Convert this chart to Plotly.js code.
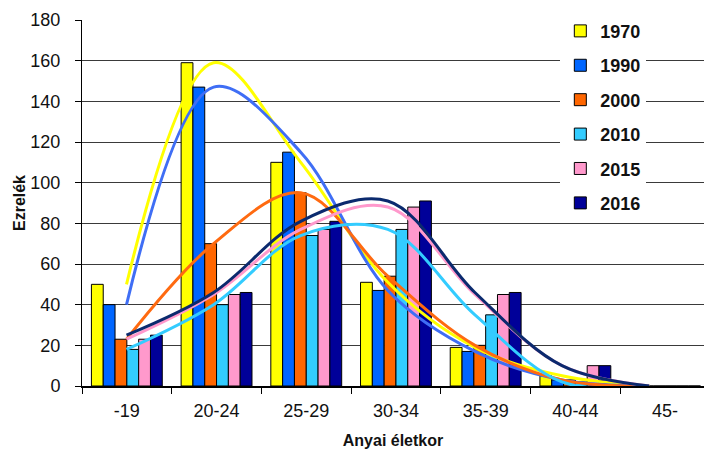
<!DOCTYPE html>
<html>
<head>
<meta charset="utf-8">
<script src="https://cdn.plot.ly/plotly-3.0.1.min.js"></script>
<style>
  html, body { margin: 0; padding: 0; background: #ffffff; }
  #chart { width: 704px; height: 459px; }
</style>
</head>
<body>
<div id="chart"></div>
<script>
// Age groups of mothers (x categories)
const ageGroups = ['-19', '20-24', '25-29', '30-34', '35-39', '40-44', '45-'];
const years = ['1970', '1990', '2000', '2010', '2015', '2016'];

// Births per thousand, by age group and year
const v1970 = [50, 159, 110, 51, 19, 5, 0];
const v1990 = [40, 147, 115, 47, 17, 3, 0];
const v2000 = [23, 70, 95, 54, 20, 3, 0];
const v2010 = [18, 40, 74, 77, 35, 2, 0];
const v2015 = [23, 45, 77, 88, 45, 10, 0];
const v2016 = [25, 46, 81, 91, 46, 10, 0];

const seriesValues = [v1970, v1990, v2000, v2010, v2015, v2016];
const barColors = ['#FFFF00', '#0066FF', '#FF6600', '#33CCFF', '#FF99CC', '#000099'];
const lineColors = ['#FFFF00', '#3F6EF5', '#FF6A10', '#33CCFF', '#FF99CC', '#0B2A6E'];

const FONT = '"Liberation Sans", Arial, sans-serif';
const TXT = '#111111';

const traces = [];
years.forEach((yr, i) => {
  traces.push({
    type: 'bar',
    name: yr,
    legendgroup: yr,
    x: ageGroups,
    y: seriesValues[i],
    marker: { color: barColors[i], line: { color: '#000000', width: 1 } },
    hoverinfo: 'x+y+name'
  });
});
// Smoothed trend lines, drawn on top of the bars
years.forEach((yr, i) => {
  traces.push({
    type: 'scatter',
    mode: 'lines',
    name: yr,
    legendgroup: yr,
    showlegend: false,
    xaxis: 'x2',
    yaxis: 'y',
    x: ageGroups,
    y: seriesValues[i],
    line: { color: lineColors[i], width: 3, shape: 'spline', smoothing: 1 },
    hoverinfo: 'skip'
  });
});

const layout = {
  width: 704,
  height: 459,
  margin: { l: 82, r: 0, t: 19.5, b: 72.5 },
  paper_bgcolor: '#ffffff',
  plot_bgcolor: '#ffffff',
  font: { family: FONT, size: 18, color: TXT },
  barmode: 'group',
  bargap: 0.21,
  bargroupgap: 0,
  showlegend: true,
  legend: {
    x: 0.769, y: 1.02, xanchor: 'left', yanchor: 'top',
    bgcolor: '#ffffff',
    borderwidth: 0,
    tracegroupgap: 8,
    itemwidth: 30,
    font: { family: FONT, size: 18, color: TXT, weight: 'bold' }
  },
  xaxis: {
    type: 'category',
    range: [-0.5, 6.434],
    tickson: 'boundaries',
    ticks: 'outside',
    ticklen: 6,
    tickcolor: '#000000',
    tickwidth: 1,
    showline: true,
    linecolor: '#000000',
    linewidth: 2,
    showgrid: false,
    zeroline: false,
    ticklabelstandoff: 7,
    tickfont: { family: FONT, size: 18, color: TXT },
    title: {
      text: 'Anyai életkor',
      font: { family: FONT, size: 16, color: TXT, weight: 'bold' },
      standoff: 15
    }
  },
  xaxis2: {
    type: 'category',
    overlaying: 'x',
    anchor: 'y',
    range: [-0.511, 6.63],
    visible: false,
    showgrid: false,
    zeroline: false
  },
  yaxis: {
    range: [0, 180],
    dtick: 20,
    ticks: 'outside',
    ticklen: 6,
    tickcolor: '#000000',
    showline: true,
    linecolor: '#000000',
    linewidth: 1,
    showgrid: true,
    gridcolor: '#3a3a3a',
    gridwidth: 1,
    zeroline: false,
    ticklabelstandoff: 11,
    tickfont: { family: FONT, size: 18, color: TXT },
    title: {
      text: 'Ezrelék',
      font: { family: FONT, size: 16, color: TXT, weight: 'bold' },
      standoff: 0
    }
  }
};

Plotly.newPlot('chart', traces, layout, { displayModeBar: false, staticPlot: true });
</script>
</body>
</html>
